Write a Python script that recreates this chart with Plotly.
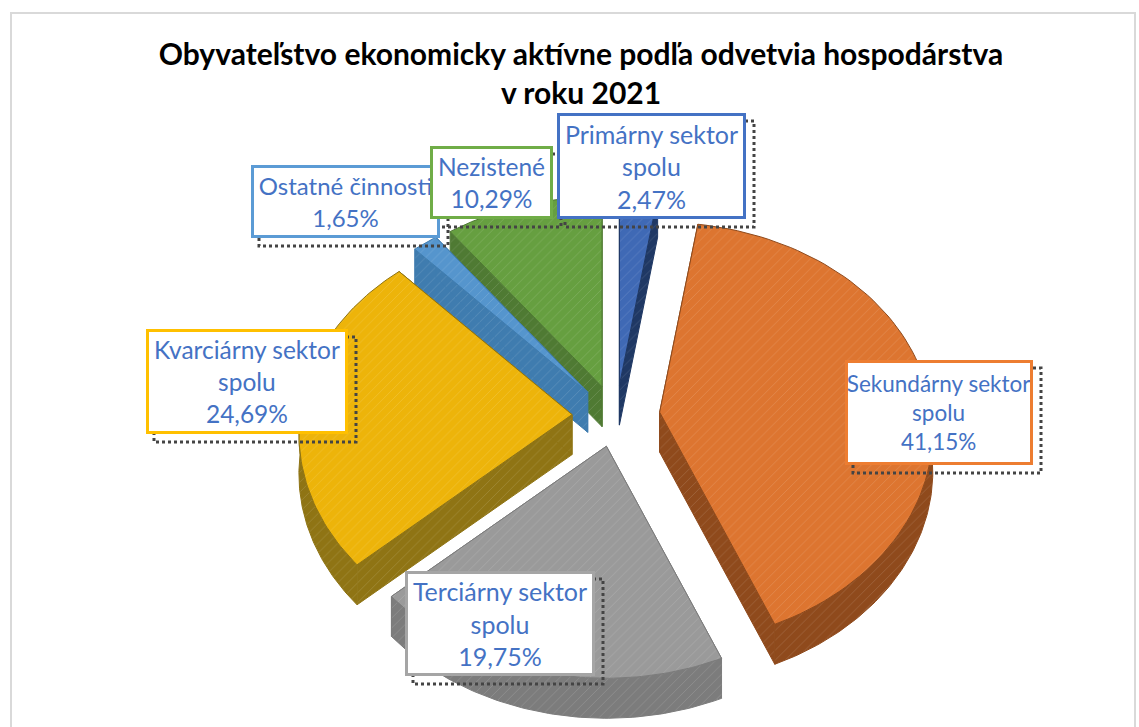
import numpy as np
import plotly.graph_objects as go

W, H = 1139, 727
sectors = ["Primárny sektor<br>spolu", "Sekundárny sektor<br>spolu", "Terciárny sektor<br>spolu",
           "Kvarciárny sektor<br>spolu", "Ostatné činnosti", "Nezistené"]
shares = [2.47, 41.15, 19.75, 24.69, 1.65, 10.29]
colors = ["#4472C4", "#ED7D31", "#A5A5A5", "#FFC000", "#5B9BD5", "#70AD47"]
top_colors = ["#3F69B5", "#DD7530", "#9A9A9A", "#EDB40A", "#5595CD", "#669F40"]
wall_colors = ["#1F3864", "#8F4A1C", "#7C7C7C", "#8F7414", "#3F7CAF", "#4F7A33"]
title_text = "<b>Obyvateľstvo ekonomicky aktívne podľa odvetvia hospodárstva<br>v roku 2021</b>"
# label boxes: left, top, right, bottom, font size (drawing order = stacking order)
boxes = {3: (146, 329, 348, 434, 24.5), 1: (845, 360, 1033, 465, 22.5), 2: (405, 571, 595, 676, 25),
         4: (251, 165, 440, 238, 24), 5: (430, 146, 553, 219, 24.5), 0: (557, 113, 746, 219, 25)}
paint_order = [0, 5, 4, 1, 3, 2]  # back to front

CX, CY, DEPTH = 616, 407, 40


def rim(apex, deg):
    t = np.radians(deg)
    rx = 272 - 25 * np.cos(t)
    ry = 211 - 21 * np.cos(t)
    return apex[0] + rx * np.sin(t), apex[1] - ry * np.cos(t)


def poly(xs, ys, fill, edge, name, pattern=False):
    extra = {}
    if pattern:
        extra["fillpattern"] = dict(shape="/", fgcolor="rgba(255,255,255,0.30)", size=7, solidity=0.12,
                                    bgcolor=fill)
    return go.Scatter(x=xs, y=ys, mode="lines", fill="toself", fillcolor=fill, name=name,
                      line=dict(color=edge, width=1), hoveron="fills", showlegend=False, **extra)


ends = np.cumsum(shares) * 3.6
starts = np.concatenate([[0], ends[:-1]])
fig = go.Figure()
for i in paint_order:
    a, b = starts[i], ends[i]
    mid = np.radians((a + b) / 2)
    apex = (CX + 44 * np.sin(mid), CY - 31 * np.cos(mid) + 9)
    name = sectors[i].replace("<br>", " ")
    arc = np.linspace(a, b, 80)
    ax, ay = rim(apex, arc)
    # side walls along the two straight edges
    for deg in (a, b):
        rx_, ry_ = rim(apex, deg)
        xs = [apex[0], rx_, rx_, apex[0], apex[0]]
        ys = [apex[1], ry_, ry_ + DEPTH, apex[1] + DEPTH, apex[1]]
        fig.add_trace(poly(xs, ys, wall_colors[i], wall_colors[i], name, True))
    # outer rim wall, front half only
    lo, hi = max(a, 90), min(b, 270)
    if hi > lo:
        f = np.linspace(lo, hi, 80)
        fx, fy = rim(apex, f)
        fig.add_trace(poly(np.r_[fx, fx[::-1]], np.r_[fy, fy[::-1] + DEPTH], wall_colors[i], wall_colors[i],
                           name, True))
    fig.add_trace(poly(np.r_[apex[0], ax, apex[0]], np.r_[apex[1], ay, apex[1]], top_colors[i],
                       wall_colors[i], name, True))


shapes = [dict(type="rect", xref="x", yref="y", x0=11, x1=1135, y0=13, y1=735,
               line=dict(color="#D9D9D9", width=2), layer="below")]
annotations = []
for i, (l, t, r, b, fs) in boxes.items():
    shapes.append(dict(type="rect", xref="x", yref="y", x0=l + 8, x1=r + 8, y0=t + 8, y1=b + 8,
                       line=dict(color="#444444", width=3, dash="dot"), layer="above"))
    text = f"{sectors[i]}<br>{shares[i]:.2f}".replace(".", ",") + "%"
    annotations.append(dict(xref="x", yref="y", x=(l + r) / 2, y=(t + b) / 2,
                            xanchor="center", yanchor="middle", showarrow=False, text=text,
                            width=r - l - 6, height=b - t - 6, align="center", valign="middle",
                            bgcolor="white", bordercolor=colors[i], borderwidth=3, borderpad=0,
                            font=dict(family="Lato", size=fs, color="#4472C4")))

fig.update_layout(width=W, height=H, margin=dict(l=0, r=0, t=0, b=0), paper_bgcolor="white",
                  plot_bgcolor="white", font=dict(family="Lato"), shapes=shapes, annotations=annotations,
                  xaxis=dict(range=[0, W], visible=False, fixedrange=True),
                  yaxis=dict(range=[H, 0], visible=False, fixedrange=True),
                  title=dict(text=title_text, x=581 / W, xanchor="center", y=1 - 65 / H, yanchor="middle",
                             font=dict(family="Lato", size=30, color="black")))
fig.write_html("out.html", config=dict(displayModeBar=False), post_script="document.body.style.margin='0';")
